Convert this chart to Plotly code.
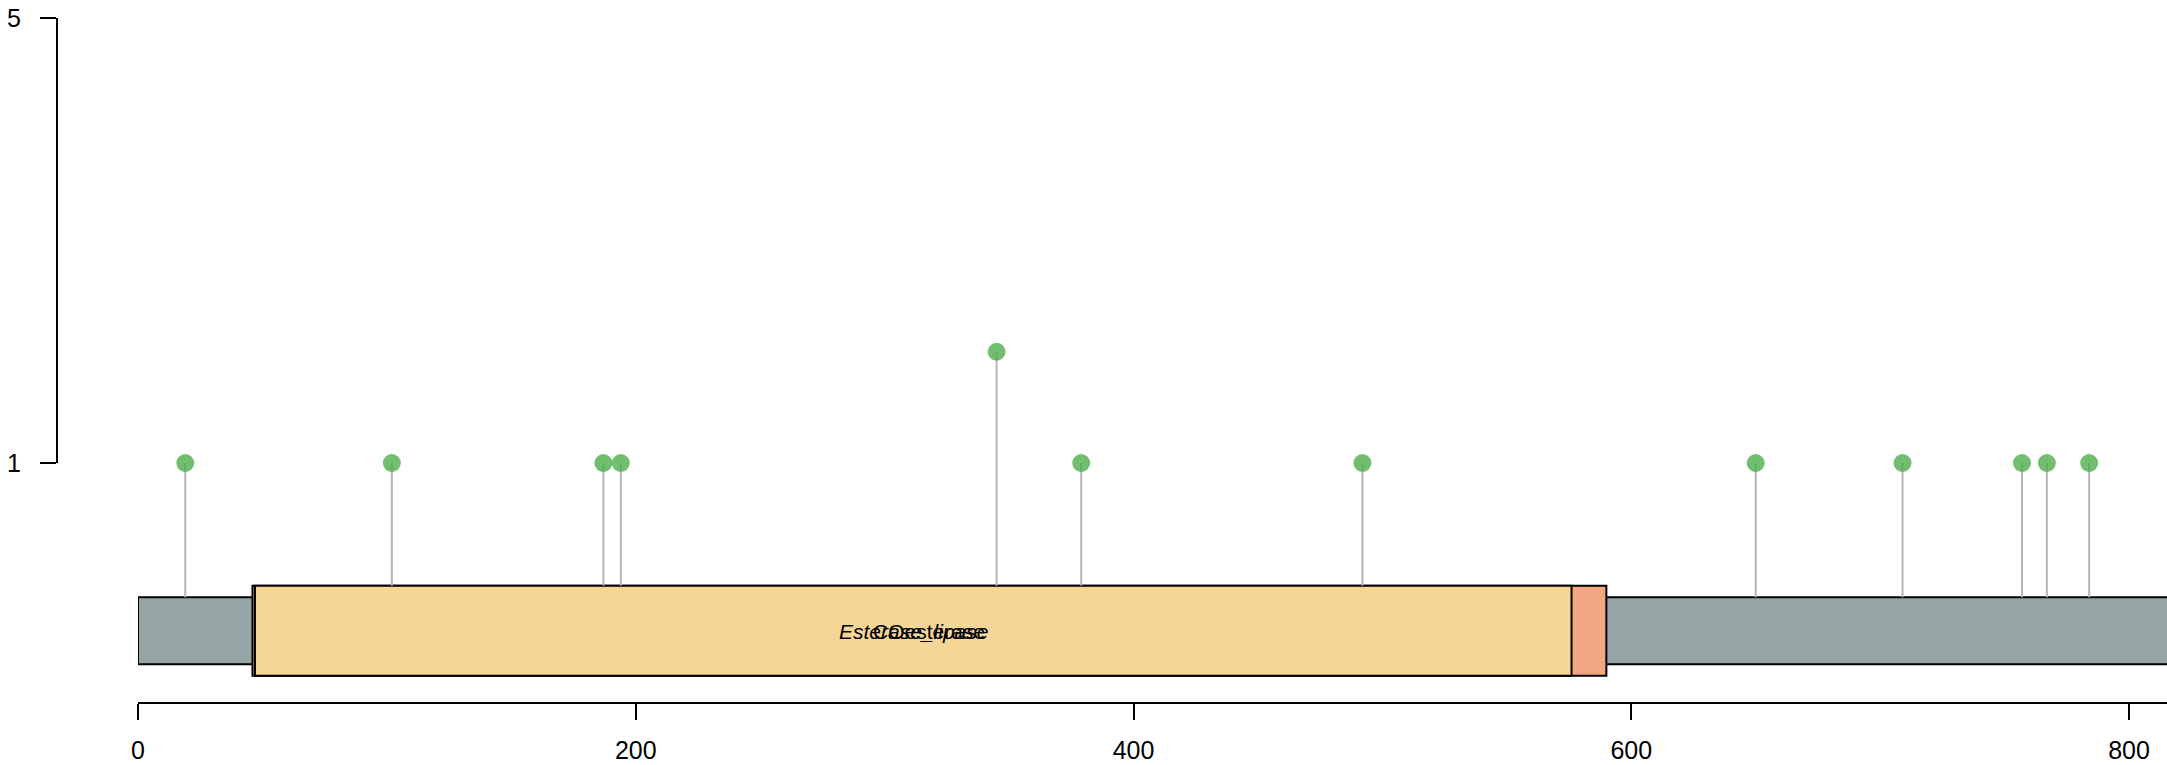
import plotly.graph_objects as go

# ---- data ----
protein_length = 850
mutation_positions = [19, 102, 187, 194, 345, 379, 492, 650, 709, 757, 767, 784]
mutation_scores = [1, 1, 1, 1, 2, 1, 1, 1, 1, 1, 1, 1]
domain_names = ["COesterase", "Esterase_lipase"]
domain_starts = [46, 47]
domain_ends = [590, 576]
x_ticks = [0, 200, 400, 600, 800]
y_ticks = [1, 5]

# ---- styles ----
W, H = 2167, 765
FONT = "Liberation Sans, Arial, Helvetica, sans-serif"
domain_fill = {"COesterase": "#F3A683", "Esterase_lipase": "#F5D695"}
domain_italic = {"COesterase": False, "Esterase_lipase": True}
backbone_fill = "#95A5A6"
center_y = -0.508
backbone_half = 0.301
domain_half = 0.405

# pixel geometry of axes
x0_px, x800_px = 138, 2129
px_per_unit = (x800_px - x0_px) / 800.0
x_right = (W - x0_px) / px_per_unit
y1_px, y5_px = 463, 18
unit_per_px = 4.0 / (y1_px - y5_px)
y_top = 5 + y5_px * unit_per_px
y_bottom = 1 - (H - y1_px) * unit_per_px

fig = go.Figure()

shapes = [dict(type="rect", xref="x", yref="y", layer="below",
               x0=0, x1=protein_length,
               y0=center_y - backbone_half, y1=center_y + backbone_half,
               fillcolor=backbone_fill, line=dict(color="black", width=2))]
annotations = []
for name, s, e in zip(domain_names, domain_starts, domain_ends):
    shapes.append(dict(type="rect", xref="x", yref="y", layer="below",
                       x0=s, x1=e,
                       y0=center_y - domain_half, y1=center_y + domain_half,
                       fillcolor=domain_fill[name], line=dict(color="black", width=2)))
    txt = f"<i>{name}</i>" if domain_italic[name] else name
    annotations.append(dict(x=(s + e) / 2, y=center_y - 0.01, xref="x", yref="y",
                            text=txt, showarrow=False,
                            font=dict(family=FONT, size=21, color="black"),
                            xanchor="center", yanchor="middle"))

# stems
sx, sy = [], []
for p, v in zip(mutation_positions, mutation_scores):
    in_dom = any(s <= p <= e for s, e in zip(domain_starts, domain_ends))
    base = center_y + (domain_half if in_dom else backbone_half)
    sx += [p, p, None]
    sy += [base, v, None]
fig.add_trace(go.Scatter(x=sx, y=sy, mode="lines",
                         line=dict(color="#B4B4B4", width=2),
                         hoverinfo="skip", showlegend=False))
fig.add_trace(go.Scatter(x=mutation_positions, y=mutation_scores, mode="markers",
                         marker=dict(size=18, color="rgba(77,175,74,0.8)",
                                     line=dict(width=0)),
                         cliponaxis=False, showlegend=False))
# invisible trace to create the visible y axis
fig.add_trace(go.Scatter(x=[0, 0], y=y_ticks, yaxis="y2", mode="markers",
                         marker=dict(opacity=0), hoverinfo="skip", showlegend=False))

fig.update_layout(
    width=W, height=H,
    margin=dict(l=0, r=0, t=0, b=0, pad=0),
    paper_bgcolor="white", plot_bgcolor="rgba(0,0,0,0)",
    shapes=shapes, annotations=annotations,
    xaxis=dict(domain=[x0_px / W, 1], range=[0, x_right],
               anchor="free", position=(H - 703) / H,
               showgrid=False, zeroline=False, showline=True,
               linecolor="black", linewidth=2,
               ticks="outside", ticklen=16, tickwidth=2, tickcolor="black",
               tickvals=x_ticks, ticktext=[str(t) for t in x_ticks],
               ticklabelstandoff=9, automargin=False,
               tickfont=dict(family=FONT, size=25, color="black")),
    yaxis=dict(domain=[0, 1], range=[y_bottom, y_top], visible=False,
               showgrid=False, zeroline=False, automargin=False),
    yaxis2=dict(domain=[(H - y1_px) / H, (H - y5_px) / H], range=[1, 5],
                anchor="free", position=57 / W,
                showgrid=False, zeroline=False, showline=True,
                linecolor="black", linewidth=2,
                ticks="outside", ticklen=16, tickwidth=2, tickcolor="black",
                tickvals=y_ticks, ticktext=[str(t) for t in y_ticks],
                ticklabelstandoff=14, automargin=False,
                tickfont=dict(family=FONT, size=25, color="black")),
    showlegend=False,
)

fig.write_html("out.html", config={"displayModeBar": False},
               post_script="document.body.style.margin='0px';document.body.style.overflow='hidden';")
